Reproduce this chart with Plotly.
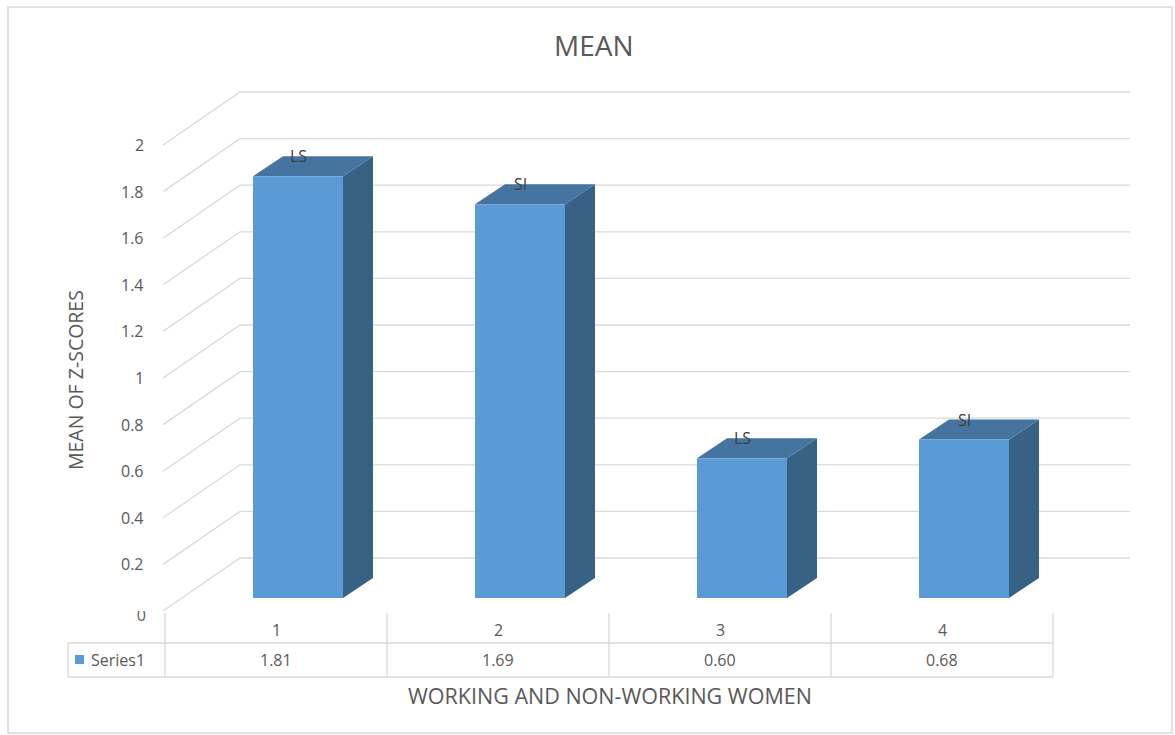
import plotly.graph_objects as go

# ---- data ----
categories = ["1", "2", "3", "4"]
values = [1.81, 1.69, 0.60, 0.68]
bar_labels = ["LS", "SI", "LS", "SI"]
value_text = ["1.81", "1.69", "0.60", "0.68"]
y_ticks = [0, 0.2, 0.4, 0.6, 0.8, 1, 1.2, 1.4, 1.6, 1.8, 2]
y_tick_text = ["0", "0.2", "0.4", "0.6", "0.8", "1", "1.2", "1.4", "1.6", "1.8", "2"]
series_name = "Series1"

# ---- geometry (pixel layout helpers) ----
W, H = 1175, 735
X0PX, CATPX = 165, 222.0      # left edge of category band, px per category
Y0PX, UNITPX = 611, 233.0     # value 0 at front, px per unit


def dx(px):  # pixel x -> data x
    return (px - X0PX) / CATPX - 0.5


def dy(py):  # pixel y -> data y
    return (Y0PX - py) / UNITPX


WALL_DX, WALL_DY = 77 / CATPX, 53 / UNITPX     # depth of the chart box
BAR_OFF_X, BAR_OFF_Y = 22 / CATPX, 13 / UNITPX  # bar front face set back in depth
BAR_W = 90 / CATPX
BAR_DX, BAR_DY = 30 / CATPX, 20 / UNITPX        # bar depth
N = len(categories)

FONT = "Open Sans"
TXT = "#595959"
GRID = "#D9D9D9"
FRONT = "#5B9BD5"
TOP = "#44749F"
SIDE = "#386186"

fig = go.Figure()

# gridlines (floor-side diagonal + back wall)
left_front = -0.5 - 2 / CATPX
right_back = N - 0.5 + WALL_DX
for v in y_ticks:
    fig.add_trace(go.Scatter(
        x=[left_front, left_front + WALL_DX, right_back],
        y=[v, v + WALL_DY, v + WALL_DY],
        mode="lines", line=dict(color=GRID, width=1.3),
        hoverinfo="skip", showlegend=False))

# 3D bars
for i, v in enumerate(values):
    xl = i - BAR_W / 2 + BAR_OFF_X
    xr = xl + BAR_W
    yb = BAR_OFF_Y
    yt = yb + v
    fig.add_trace(go.Scatter(
        x=[xr, xr + BAR_DX, xr + BAR_DX, xr, xr],
        y=[yb, yb + BAR_DY, yt + BAR_DY, yt, yb],
        fill="toself", fillcolor=SIDE, mode="lines", line=dict(width=0, color=SIDE),
        hoverinfo="skip", showlegend=False))
    fig.add_trace(go.Scatter(
        x=[xl, xr, xr + BAR_DX, xl + BAR_DX, xl],
        y=[yt, yt, yt + BAR_DY, yt + BAR_DY, yt],
        fill="toself", fillcolor=TOP, mode="lines", line=dict(width=0, color=TOP),
        hoverinfo="skip", showlegend=False))
    fig.add_trace(go.Scatter(
        x=[xl, xr, xr, xl, xl],
        y=[yb, yb, yt, yt, yb],
        fill="toself", fillcolor=FRONT, mode="lines", line=dict(width=0, color=FRONT),
        name=series_name, hoverinfo="skip", showlegend=False))

# the zero tick label (partly hidden under the table, as in the source)
fig.add_trace(go.Scatter(
    x=[dx(146)], y=[y_ticks[0] - 6 / UNITPX], mode="text", text=[y_tick_text[0]],
    textposition="middle left", textfont=dict(family=FONT, size=16, color=TXT),
    hoverinfo="skip", showlegend=False))

annotations = []
for i, v in enumerate(values):
    annotations.append(dict(
        x=i + BAR_OFF_X, y=BAR_OFF_Y + v + BAR_DY, text=bar_labels[i],
        showarrow=False, xanchor="center", yanchor="middle",
        font=dict(family=FONT, size=16, color="#404040")))

for v, t in zip(y_ticks[1:], y_tick_text[1:]):
    annotations.append(dict(
        x=dx(146), y=v, text=t, showarrow=False,
        xanchor="right", yanchor="middle",
        font=dict(family=FONT, size=16, color=TXT)))

for i, (c, t) in enumerate(zip(categories, value_text)):
    annotations.append(dict(x=i, y=dy(630), text=c, showarrow=False,
                            xanchor="center", yanchor="middle",
                            font=dict(family=FONT, size=16, color=TXT)))
    annotations.append(dict(x=i, y=dy(660), text=t, showarrow=False,
                            xanchor="center", yanchor="middle",
                            font=dict(family=FONT, size=16, color=TXT)))
annotations.append(dict(x=dx(89), y=dy(660), text=series_name, showarrow=False,
                        xanchor="left", yanchor="middle",
                        font=dict(family=FONT, size=16, color=TXT)))

annotations.append(dict(x=dx(594), y=dy(45), text="MEAN", showarrow=False,
                        xanchor="center", yanchor="middle",
                        font=dict(family=FONT, size=28, color=TXT)))
annotations.append(dict(x=dx(610), y=dy(695), text="WORKING AND NON-WORKING WOMEN",
                        showarrow=False, xanchor="center", yanchor="middle",
                        font=dict(family=FONT, size=21.5, color=TXT)))
annotations.append(dict(x=dx(75), y=dy(380), text="MEAN OF Z-SCORES", showarrow=False,
                        textangle=-90, xanchor="center", yanchor="middle",
                        font=dict(family=FONT, size=19.5, color=TXT)))

shapes = []
shapes.append(dict(type="rect", xref="x", yref="y", x0=dx(8), x1=dx(1172), y0=dy(7), y1=dy(733),
                   line=dict(color="#D9D9D9", width=1.5), fillcolor="rgba(0,0,0,0)"))
# mask that clips the top of the zero label
shapes.append(dict(type="rect", xref="x", yref="y", x0=dx(125), x1=dx(150), y0=dy(611), y1=dy(600),
                   line=dict(width=0), fillcolor="white", layer="above"))
for k in range(N + 1):
    xk = k - 0.5
    shapes.append(dict(type="line", xref="x", yref="y", x0=xk, x1=xk, y0=dy(613), y1=dy(677),
                       line=dict(color=GRID, width=1.3)))
shapes.append(dict(type="line", xref="x", yref="y", x0=dx(68), x1=dx(68), y0=dy(643), y1=dy(677),
                   line=dict(color=GRID, width=1.3)))
for py in (643, 677):
    shapes.append(dict(type="line", xref="x", yref="y", x0=dx(68), x1=N - 0.5, y0=dy(py), y1=dy(py),
                       line=dict(color=GRID, width=1.3)))
shapes.append(dict(type="rect", xref="x", yref="y", x0=dx(75), x1=dx(84), y0=dy(664), y1=dy(655),
                   line=dict(width=0), fillcolor=FRONT))

fig.update_layout(
    width=W, height=H,
    margin=dict(l=0, r=0, t=0, b=0),
    paper_bgcolor="white", plot_bgcolor="white",
    xaxis=dict(range=[dx(0), dx(W)], visible=False, fixedrange=True),
    yaxis=dict(range=[dy(H), dy(0)], visible=False, fixedrange=True),
    annotations=annotations, shapes=shapes, showlegend=False,
)

fig.write_html("out.html")
